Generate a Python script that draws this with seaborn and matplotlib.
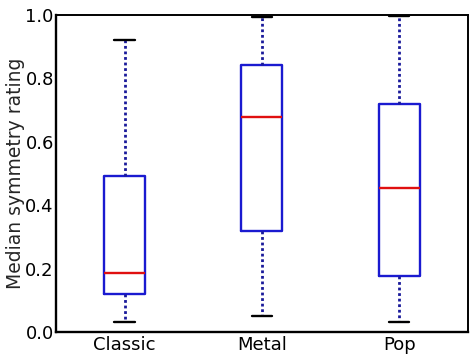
import numpy as np
import pandas as pd
import matplotlib
matplotlib.use("Agg")
import matplotlib.pyplot as plt
import seaborn as sns

categories = ["Classic", "Metal", "Pop"]
# per-genre summary: [min, Q1, median, Q3, max]
classic_vals = [0.031, 0.121, 0.186, 0.492, 0.921]
metal_vals = [0.052, 0.320, 0.679, 0.843, 0.994]
pop_vals = [0.031, 0.176, 0.453, 0.718, 0.998]
yticks = [0.0, 0.2, 0.4, 0.6, 0.8, 1.0]

df = pd.DataFrame({
    "genre": np.repeat(categories, 5),
    "rating": classic_vals + metal_vals + pop_vals,
})

sns.set_style("white")
plt.rcParams["font.family"] = ["DejaVu Sans"]

fig = plt.figure(figsize=(4.74, 3.57), dpi=100)
ax = fig.add_axes([0.118, 0.070, 0.869, 0.888])

sns.boxplot(
    data=df, x="genre", y="rating", order=categories,
    whis=(0, 100), width=0.3, fill=False, showfliers=False,
    boxprops=dict(color="#1a1ad0", linewidth=1.7),
    medianprops=dict(color="#e01010", linewidth=1.7),
    whiskerprops=dict(color="#1a1a9a", linestyle=(0, (1, 1)), linewidth=2.0),
    capprops=dict(color="black", linewidth=1.7),
    ax=ax,
)

ax.set_xlim(-0.5, 2.5)
ax.set_ylim(0, 1.0)
ax.set_yticks(yticks)
ax.set_yticklabels([f"{t:.1f}" for t in yticks])
ax.set_xlabel("")
ax.set_ylabel("Median symmetry rating", fontsize=13.5, labelpad=0.5)
ax.tick_params(axis="both", labelsize=13, colors="black", length=0)
ax.tick_params(axis="y", pad=1.5)
ax.tick_params(axis="x", pad=3)
for side, sp in ax.spines.items():
    sp.set_color("black")
    sp.set_linewidth(1.7 if side in ("left", "bottom") else 1.4)

fig.savefig("out.png", dpi=100)
